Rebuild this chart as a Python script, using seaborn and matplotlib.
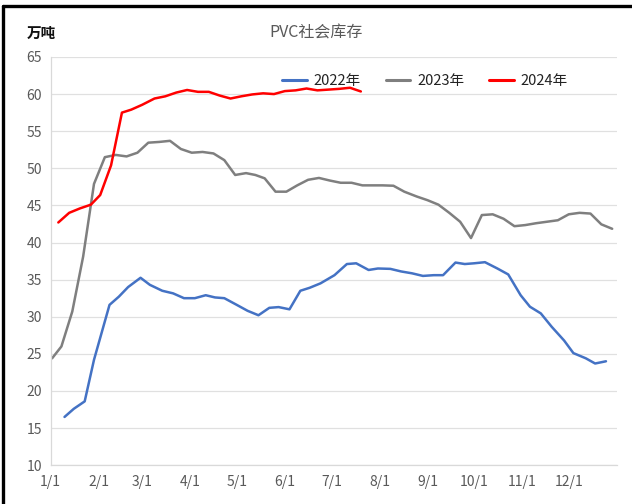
import matplotlib
matplotlib.use("Agg")
import matplotlib.pyplot as plt
import seaborn as sns
import pandas as pd
from matplotlib.lines import Line2D

# ---------------- data (month-day, value in 万吨) ----------------
dates_2022 = ["01-10", "01-16", "01-23", "01-29", "02-08", "02-14", "02-20", "02-28",
              "03-06", "03-14", "03-21", "03-28", "04-04", "04-11", "04-17", "04-23",
              "05-01", "05-08", "05-15", "05-22", "05-28", "06-04", "06-11", "06-17",
              "06-24", "07-03", "07-11", "07-17", "07-25", "07-31", "08-08", "08-15",
              "08-22", "08-29", "09-05", "09-11", "09-19", "09-25", "10-01", "10-08",
              "10-16", "10-23", "10-31", "11-06", "11-13", "11-20", "11-28", "12-04",
              "12-12", "12-18", "12-25"]
vals_2022 = [16.5, 17.6, 18.6, 24.2, 31.6, 32.7, 34.0, 35.25,
             34.3, 33.5, 33.15, 32.5, 32.5, 32.9, 32.6, 32.5,
             31.6, 30.8, 30.2, 31.2, 31.3, 31.0, 33.5, 33.9,
             34.5, 35.6, 37.1, 37.2, 36.3, 36.5, 36.45, 36.1,
             35.85, 35.5, 35.6, 35.6, 37.3, 37.1, 37.2, 37.35,
             36.5, 35.7, 32.9, 31.35, 30.45, 28.65, 26.8, 25.1,
             24.4, 23.7, 24.0]

dates_2023 = ["01-02", "01-08", "01-15", "01-22", "01-29", "02-05", "02-12", "02-19",
              "02-26", "03-05", "03-12", "03-19", "03-26", "04-02", "04-09", "04-16",
              "04-23", "04-30", "05-07", "05-13", "05-19", "05-26", "06-02", "06-09",
              "06-16", "06-23", "06-30", "07-07", "07-14", "07-21", "07-28", "08-03",
              "08-10", "08-17", "08-25", "09-01", "09-08", "09-15", "09-22", "09-29",
              "10-06", "10-13", "10-20", "10-27", "11-03", "11-10", "11-17", "11-24",
              "12-01", "12-08", "12-15", "12-22", "12-29"]
vals_2023 = [24.4, 26.0, 30.7, 38.1, 47.9, 51.5, 51.8, 51.6,
             52.1, 53.45, 53.55, 53.7, 52.6, 52.1, 52.2, 52.0,
             51.1, 49.1, 49.35, 49.1, 48.65, 46.85, 46.85, 47.7,
             48.45, 48.7, 48.35, 48.05, 48.05, 47.7, 47.7, 47.7,
             47.65, 46.85, 46.2, 45.7, 45.1, 44.0, 42.8, 40.6,
             43.7, 43.8, 43.2, 42.2, 42.35, 42.6, 42.8, 43.0,
             43.8, 44.0, 43.9, 42.45, 41.85]

dates_2024 = ["01-06", "01-13", "01-20", "01-27", "02-02", "02-09", "02-16", "02-22",
              "03-01", "03-09", "03-16", "03-23", "03-30", "04-06", "04-13", "04-20",
              "04-27", "05-04", "05-11", "05-18", "05-25", "06-01", "06-08", "06-15",
              "06-22", "06-29", "07-06", "07-13", "07-20"]
vals_2024 = [42.7, 44.0, 44.6, 45.1, 46.4, 50.4, 57.5, 57.9,
             58.55, 59.4, 59.7, 60.2, 60.55, 60.3, 60.3, 59.8,
             59.4, 59.7, 59.95, 60.1, 60.0, 60.4, 60.5, 60.75,
             60.5, 60.6, 60.7, 60.85, 60.35]

series_names = ["2022年", "2023年", "2024年"]
month_labels = ["1/1", "2/1", "3/1", "4/1", "5/1", "6/1",
                "7/1", "8/1", "9/1", "10/1", "11/1", "12/1"]
title_text = "PVC社会库存"
unit_text = "万吨"

# ---------------- build long table ----------------
def to_day(md):
    return pd.Timestamp("2023-" + md).dayofyear - 1

frames = []
for name, ds, vs in zip(series_names, [dates_2022, dates_2023, dates_2024],
                        [vals_2022, vals_2023, vals_2024]):
    frames.append(pd.DataFrame({"day": [to_day(d) for d in ds],
                                "value": vs, "year": name}))
df = pd.concat(frames, ignore_index=True)

# ---------------- style ----------------
sns.set_theme(style="white")
plt.rcParams["font.family"] = ["Liberation Sans Narrow", "Noto Sans CJK SC", "DejaVu Sans"]
plt.rcParams["axes.unicode_minus"] = False

fig = plt.figure(figsize=(6.32, 5.04), dpi=100)
ax = fig.add_axes([0.080, 0.077, 0.896, 0.810])

palette = {"2022年": "#4472C4", "2023年": "#7F7F7F", "2024年": "#FF0000"}
sns.lineplot(data=df, x="day", y="value", hue="year", palette=palette,
             linewidth=1.8, ax=ax, legend=False, sort=True, estimator=None)

# axes ranges & ticks
ax.set_xlim(0, 365)
ax.set_ylim(10, 65)
month_starts = [to_day(f"{m:02d}-01") for m in range(1, 13)]
ax.set_xticks(month_starts + [365])
ax.set_xticklabels(month_labels + [""])
ax.set_yticks(range(10, 66, 5))
ax.set_xlabel("")
ax.set_ylabel("")

lab_color = "#595959"
ax.tick_params(axis="x", which="both", direction="out", length=4, width=0.8,
               color="#D9D9D9", labelsize=10, labelcolor=lab_color, pad=3)
ax.tick_params(axis="y", length=0, labelsize=10, labelcolor=lab_color, pad=6)

ax.grid(axis="y", color="#E0E0E0", linewidth=0.9)
ax.grid(axis="x", visible=False)
ax.set_axisbelow(True)
for s in ["top", "right"]:
    ax.spines[s].set_visible(False)
ax.spines["left"].set_color("#D9D9D9")
ax.spines["bottom"].set_color("#D9D9D9")
ax.spines["left"].set_linewidth(0.9)
ax.spines["bottom"].set_linewidth(0.9)

# legend
handles = [Line2D([0], [0], color=palette[n], linewidth=2.2) for n in series_names]
ax.legend(handles, series_names, loc="center", bbox_to_anchor=(0.661, 0.942),
          ncol=3, frameon=False, fontsize=10.5, handlelength=1.7,
          columnspacing=1.7, handletextpad=0.45, labelcolor="#222222")

# title & unit
fig.text(0.50, 0.935, title_text, ha="center", va="center", fontsize=11.5,
         color=lab_color)
fig.text(0.043, 0.935, unit_text, ha="left", va="center", fontsize=10.5,
         color="#111111", fontweight="bold")

# black frame (left and top)
fig.add_artist(Line2D([0.0055, 0.0055], [0.0, 0.989], transform=fig.transFigure,
                      color="black", linewidth=2.4))
fig.add_artist(Line2D([0.0055, 1.0], [0.989, 0.989], transform=fig.transFigure,
                      color="black", linewidth=2.4))

fig.savefig("out.png", dpi=100)
